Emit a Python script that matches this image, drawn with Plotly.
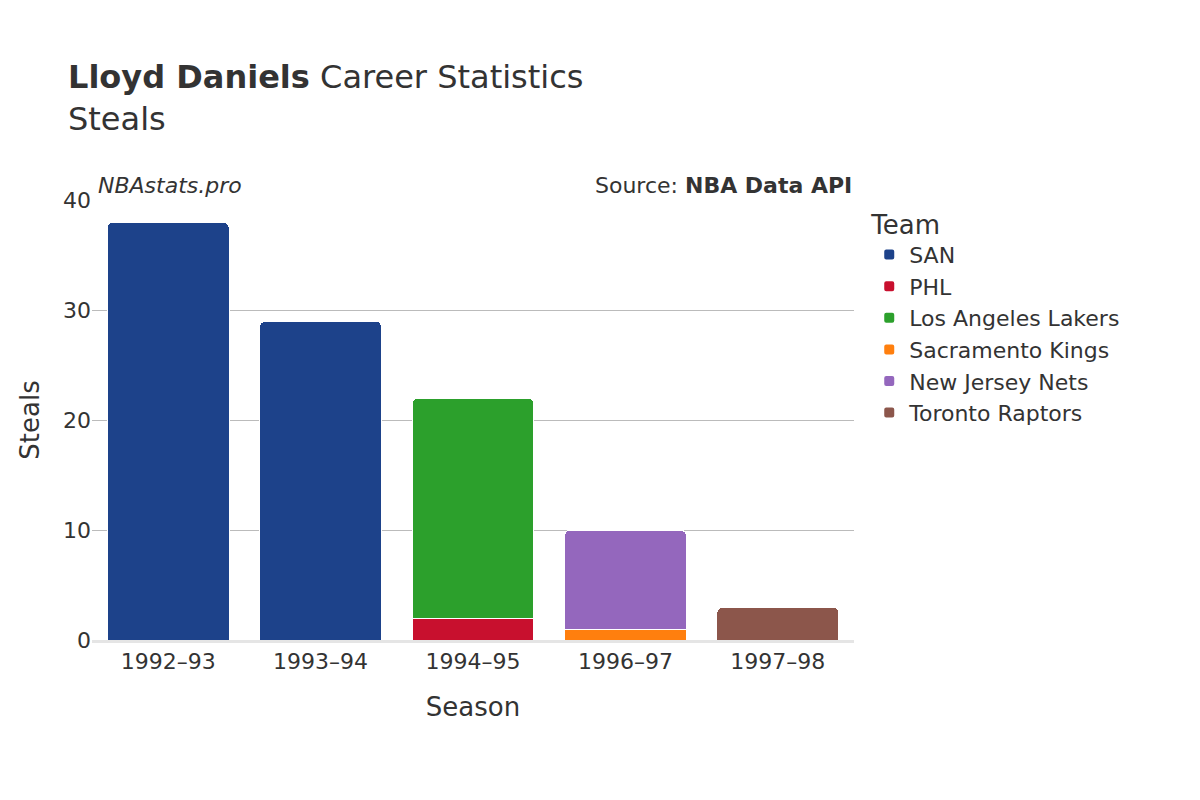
import plotly.graph_objects as go

seasons = ["1992–93", "1993–94", "1994–95", "1996–97", "1997–98"]
teams = ["SAN", "PHL", "Los Angeles Lakers", "Sacramento Kings", "New Jersey Nets", "Toronto Raptors"]
colors = ["#1d428a", "#c8102e", "#2ca02c", "#ff7f0e", "#9467bd", "#8c564b"]
steals = {
    "SAN": [38, 29, None, None, None],
    "PHL": [None, None, 2, None, None],
    "Los Angeles Lakers": [None, None, 20, None, None],
    "Sacramento Kings": [None, None, None, 1, None],
    "New Jersey Nets": [None, None, None, 9, None],
    "Toronto Raptors": [None, None, None, None, 3],
}

fig = go.Figure()
for team, color in zip(teams, colors):
    fig.add_trace(go.Bar(x=seasons, y=steals[team], name=team, marker_color=color,
                         marker_line=dict(color="white", width=1)))

fig.update_layout(
    barmode="stack",
    barcornerradius=6,
    bargap=0.2,
    width=1200, height=800,
    font=dict(family="DejaVu Sans", color="#333", size=22),
    plot_bgcolor="white", paper_bgcolor="white",
    margin=dict(l=84, r=354, t=192, b=168),
    title=dict(text="<b>Lloyd Daniels</b> Career Statistics<br>Steals",
               x=0.05, xanchor="left", y=0.9, yanchor="top", font=dict(size=32)),
    legend=dict(title=dict(text="Team", font=dict(size=26)), x=1.02, y=1.0,
                yanchor="top", font=dict(size=22), itemsizing="constant",
                traceorder="normal", tracegroupgap=10),
    xaxis=dict(title=dict(text="Season", font=dict(size=26), standoff=25), showline=True,
               linecolor="#e5e5e5", linewidth=3, tickfont=dict(size=22)),
    yaxis=dict(title=dict(text="Steals", font=dict(size=26)), range=[0, 40],
               dtick=10, gridcolor="#bbb", zeroline=False, tickfont=dict(size=22)),
    annotations=[
        dict(text="<i>NBAstats.pro</i>", xref="paper", yref="paper", x=0.005, y=1.0,
             xanchor="left", yanchor="bottom", showarrow=False, font=dict(size=22)),
        dict(text="Source: <b>NBA Data API</b>", xref="paper", yref="paper", x=1.0, y=1.0,
             xanchor="right", yanchor="bottom", showarrow=False, font=dict(size=22)),
    ],
)

fig.write_html("out.html")
